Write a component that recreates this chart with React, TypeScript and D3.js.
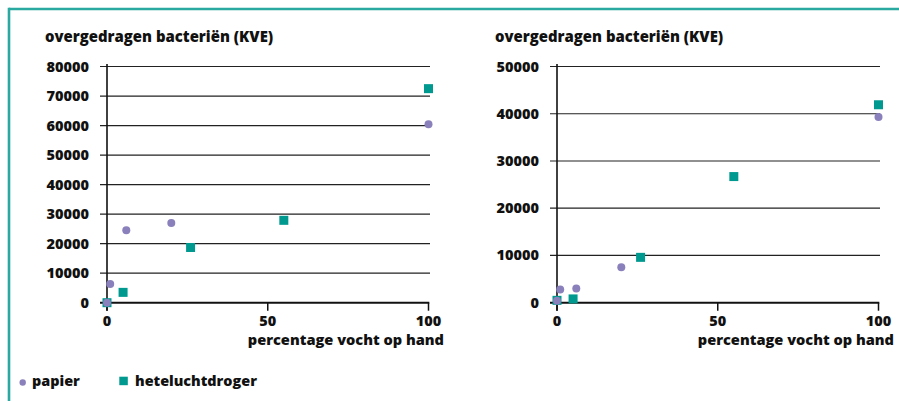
import React from "react";
import * as d3 from "d3";

// ---- data ----
const leftPapierX = [0, 1, 6, 20, 100];
const leftPapierY = [0, 6300, 24500, 27000, 60400];
const leftHeteX = [0, 5, 26, 55, 100];
const leftHeteY = [0, 3500, 18700, 27900, 72500];

const rightPapierX = [0, 1, 6, 20, 100];
const rightPapierY = [400, 2800, 3000, 7500, 39300];
const rightHeteX = [0, 5, 26, 55, 100];
const rightHeteY = [500, 800, 9600, 26700, 41900];

const leftYTicks = [0, 10000, 20000, 30000, 40000, 50000, 60000, 70000, 80000];
const rightYTicks = [0, 10000, 20000, 30000, 40000, 50000];
const xTicks = [0, 50, 100];

const yTitle = "overgedragen bacteriën (KVE)";
const xTitle = "percentage vocht op hand";
const seriesNames = ["papier", "heteluchtdroger"];

const PURPLE = "#8a80bb";
const TEAL = "#00998f";
const BORDER = "#2aa9a0";
const FONT = "'Open Sans', 'Noto Sans', sans-serif";
const W = 800;

type PanelProps = {
  ox: number;
  yTicks: number[];
  px: number[];
  py: number[];
  hx: number[];
  hy: number[];
};

function Panel({ ox, yTicks, px, py, hx, hy }: PanelProps) {
  const yMax = yTicks[yTicks.length - 1];
  const x = d3.scaleLinear().domain([0, 100]).range([ox + 107, ox + 428.5]);
  const y = d3.scaleLinear().domain([0, yMax]).range([302.7, 66.5]);
  const gridLeft = ox + 100;
  const gridRight = ox + 430;
  return (
    <g>
      <text x={ox + 45} y={42} fontFamily={FONT} fontWeight={W} fontSize={14.9} fill="#111">
        {yTitle}
      </text>
      {yTicks.map((t) => (
        <g key={t}>
          {t !== 0 && (
            <line x1={gridLeft} x2={gridRight} y1={y(t)} y2={y(t)} stroke="#222" strokeWidth={1.2} />
          )}
          <text
            x={ox + 89}
            y={y(t) + 5}
            textAnchor="end"
            fontFamily={FONT}
            fontWeight={W}
            fontSize={14.5}
            fill="#111"
          >
            {t}
          </text>
        </g>
      ))}
      {/* x axis */}
      <line x1={gridLeft} x2={x(100) + 0.8} y1={y(0)} y2={y(0)} stroke="#111" strokeWidth={2} />
      {xTicks.map((t) => (
        <g key={t}>
          <line x1={x(t)} x2={x(t)} y1={y(0)} y2={y(0) + 8} stroke="#111" strokeWidth={1.5} />
          <text
            x={x(t)}
            y={y(0) + 23}
            textAnchor="middle"
            fontFamily={FONT}
            fontWeight={W}
            fontSize={14.5}
            fill="#111"
          >
            {t}
          </text>
        </g>
      ))}
      {/* y axis */}
      <line x1={x(0)} x2={x(0)} y1={y(yMax) - 2.5} y2={y(0) + 8} stroke="#111" strokeWidth={1.6} />
      <text
        x={ox + 444}
        y={345}
        textAnchor="end"
        fontFamily={FONT}
        fontWeight={W}
        fontSize={14.6}
        fill="#111"
      >
        {xTitle}
      </text>
      {hx.map((v, i) => (
        <rect key={"h" + i} x={x(v) - 4.5} y={y(hy[i]) - 4.5} width={9} height={9} fill={TEAL} />
      ))}
      {px.map((v, i) => (
        <circle key={"p" + i} cx={x(v)} cy={y(py[i])} r={4} fill={PURPLE} />
      ))}
    </g>
  );
}

export default function App() {
  return (
    <svg
      width={899}
      height={401}
      style={{ position: "absolute", left: 0, top: 0, background: "#fff" }}
    >
      <rect x={0} y={0} width={899} height={401} fill="#fff" />
      <line x1={9} x2={899} y1={9} y2={9} stroke={BORDER} strokeWidth={2.6} />
      <line x1={9} x2={9} y1={7.7} y2={401} stroke={BORDER} strokeWidth={2.6} />
      <Panel ox={0} yTicks={leftYTicks} px={leftPapierX} py={leftPapierY} hx={leftHeteX} hy={leftHeteY} />
      <Panel ox={450} yTicks={rightYTicks} px={rightPapierX} py={rightPapierY} hx={rightHeteX} hy={rightHeteY} />
      {/* legend */}
      <circle cx={22.7} cy={382.5} r={3.2} fill={PURPLE} />
      <text x={32} y={386} fontFamily={FONT} fontWeight={W} fontSize={14.4} fill="#111">
        {seriesNames[0]}
      </text>
      <rect x={119.3} y={376.7} width={8.5} height={8.5} fill={TEAL} />
      <text x={135} y={386} fontFamily={FONT} fontWeight={W} fontSize={14.4} fill="#111">
        {seriesNames[1]}
      </text>
    </svg>
  );
}
